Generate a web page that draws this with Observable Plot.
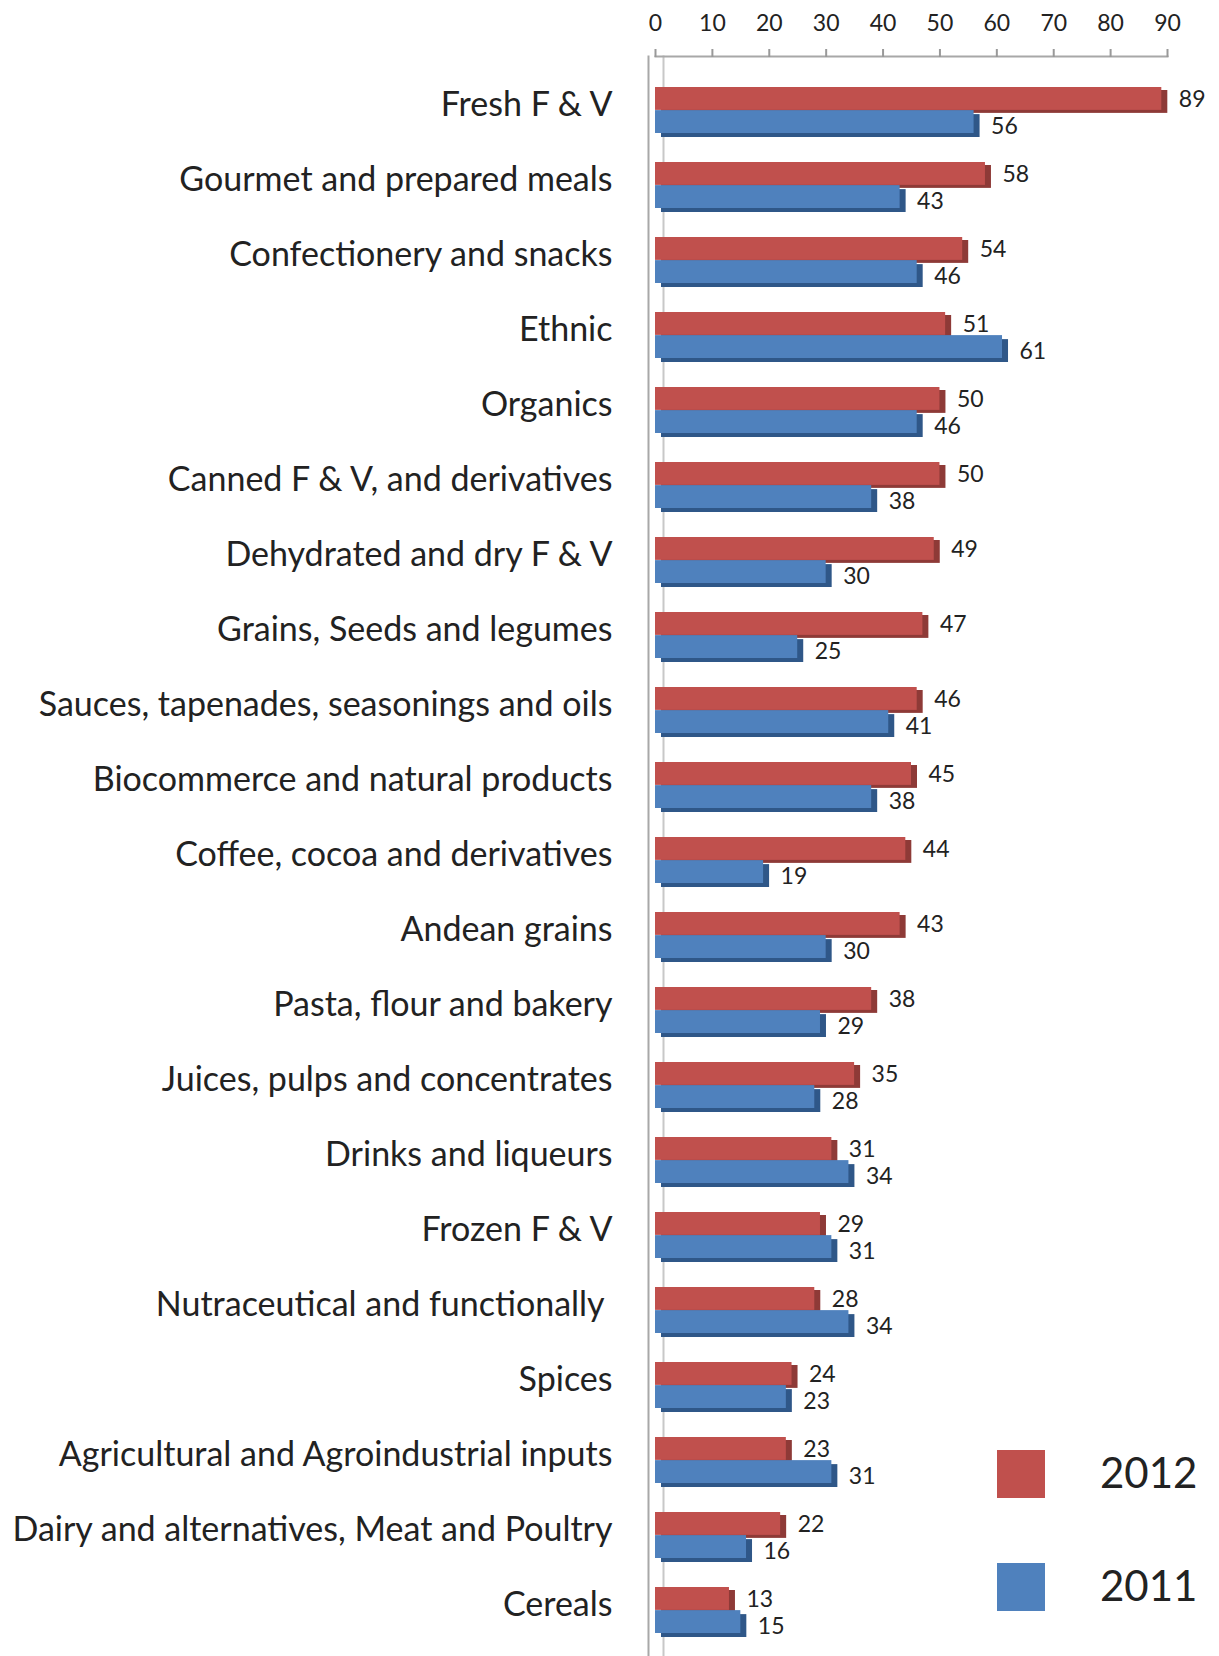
<!DOCTYPE html>
<html>
<head>
<meta charset="utf-8">
<script src="https://cdn.jsdelivr.net/npm/d3@7"></script>
<script src="https://cdn.jsdelivr.net/npm/@observablehq/plot@0.6"></script>
<style>
  html, body { margin: 0; padding: 0; background: #fff; }
  #wrap { position: relative; width: 1219px; height: 1656px; }
  .legend { position: absolute; left: 997px; font-family: Lato, "Open Sans", sans-serif; font-size: 42px; color: #222; }
  .legend .sw { position: absolute; width: 48px; height: 48px; }
  .legend .lab { position: absolute; left: 103px; top: -2px; line-height: 48px; }
</style>
</head>
<body>
<div id="wrap"></div>
<script>
const categories = [
  "Fresh F & V",
  "Gourmet and prepared meals",
  "Confectionery and snacks",
  "Ethnic",
  "Organics",
  "Canned F & V, and derivatives",
  "Dehydrated and dry F & V",
  "Grains, Seeds and legumes",
  "Sauces, tapenades, seasonings and oils",
  "Biocommerce and natural products",
  "Coffee, cocoa and derivatives",
  "Andean grains",
  "Pasta, flour and bakery",
  "Juices, pulps and concentrates",
  "Drinks and liqueurs",
  "Frozen F & V",
  "Nutraceutical and functionally ",
  "Spices",
  "Agricultural and Agroindustrial inputs",
  "Dairy and alternatives, Meat and Poultry",
  "Cereals"
];
const values2012 = [89, 58, 54, 51, 50, 50, 49, 47, 46, 45, 44, 43, 38, 35, 31, 29, 28, 24, 23, 22, 13];
const values2011 = [56, 43, 46, 61, 46, 38, 30, 25, 41, 38, 19, 30, 29, 28, 34, 31, 34, 23, 31, 16, 15];
const xTicks = [0, 10, 20, 30, 40, 50, 60, 70, 80, 90];
const seriesNames = ["2012", "2011"];
const seriesColors = ["#C0504D", "#4F81BD"];
const seriesDark = ["#8E3A37", "#2F5788"];

const rows2012 = categories.map((c, i) => ({category: c, value: values2012[i]}));
const rows2011 = categories.map((c, i) => ({category: c, value: values2011[i]}));

const W = 1219, H = 1656;
const yRange = [79, 1641];
const padInner = 0.39, padOuter = 0;
const step = (yRange[1] - yRange[0]) / (categories.length - padInner + 2 * padOuter);
const bw = step * (1 - padInner);
const half = bw / 2;
const font = "Lato, 'Open Sans', sans-serif";

const chart = Plot.plot({
  width: W,
  height: H,
  marginTop: 56,
  marginLeft: 655,
  marginRight: 52,
  marginBottom: 0,
  style: {fontFamily: font, color: "#222", background: "#fff"},
  x: {domain: [0, 90], axis: null},
  y: {domain: categories, range: yRange, paddingInner: padInner, paddingOuter: padOuter, axis: null},
  marks: [
    Plot.frame({anchor: "left", dx: 8, stroke: "#c8c8c8", strokeWidth: 2}),
    Plot.frame({anchor: "left", dx: -7, stroke: "#a8a8a8", strokeWidth: 2}),
    Plot.frame({anchor: "top", stroke: "#a8a8a8", strokeWidth: 2}),
    Plot.axisX({anchor: "top", ticks: xTicks, tickSize: 8, tickPadding: 18, fontSize: 23, stroke: "#999", strokeWidth: 2, label: null}),
    Plot.axisY({anchor: "left", tickSize: 0, tickPadding: 43, fontSize: 34, dy: -5, label: null}),
    // 3D depth underlays
    Plot.barX(rows2012, {x: "value", y: "category", fill: seriesDark[0], insetBottom: half, dx: 6, dy: 3}),
    Plot.barX(rows2011, {x: "value", y: "category", fill: seriesDark[1], insetTop: half, dx: 6, dy: 4}),
    Plot.barX(rows2012, {x: "value", y: "category", fill: seriesColors[0], insetBottom: half}),
    Plot.barX(rows2011, {x: "value", y: "category", fill: seriesColors[1], insetTop: half}),
    Plot.text(rows2012, {x: "value", y: "category", text: d => String(d.value), dx: 17, dy: -half / 2 + 1, textAnchor: "start", fontSize: 23, fill: "#222"}),
    Plot.text(rows2011, {x: "value", y: "category", text: d => String(d.value), dx: 17, dy: half / 2 + 5, textAnchor: "start", fontSize: 23, fill: "#222"})
  ]
});

const wrap = document.getElementById("wrap");
wrap.appendChild(chart);

const legendTops = [1450, 1563];
seriesNames.forEach((name, i) => {
  const item = document.createElement("div");
  item.className = "legend";
  item.style.top = legendTops[i] + "px";
  const sw = document.createElement("div");
  sw.className = "sw";
  sw.style.background = seriesColors[i];
  const lab = document.createElement("div");
  lab.className = "lab";
  lab.textContent = name;
  item.appendChild(sw);
  item.appendChild(lab);
  wrap.appendChild(item);
});
</script>
</body>
</html>
